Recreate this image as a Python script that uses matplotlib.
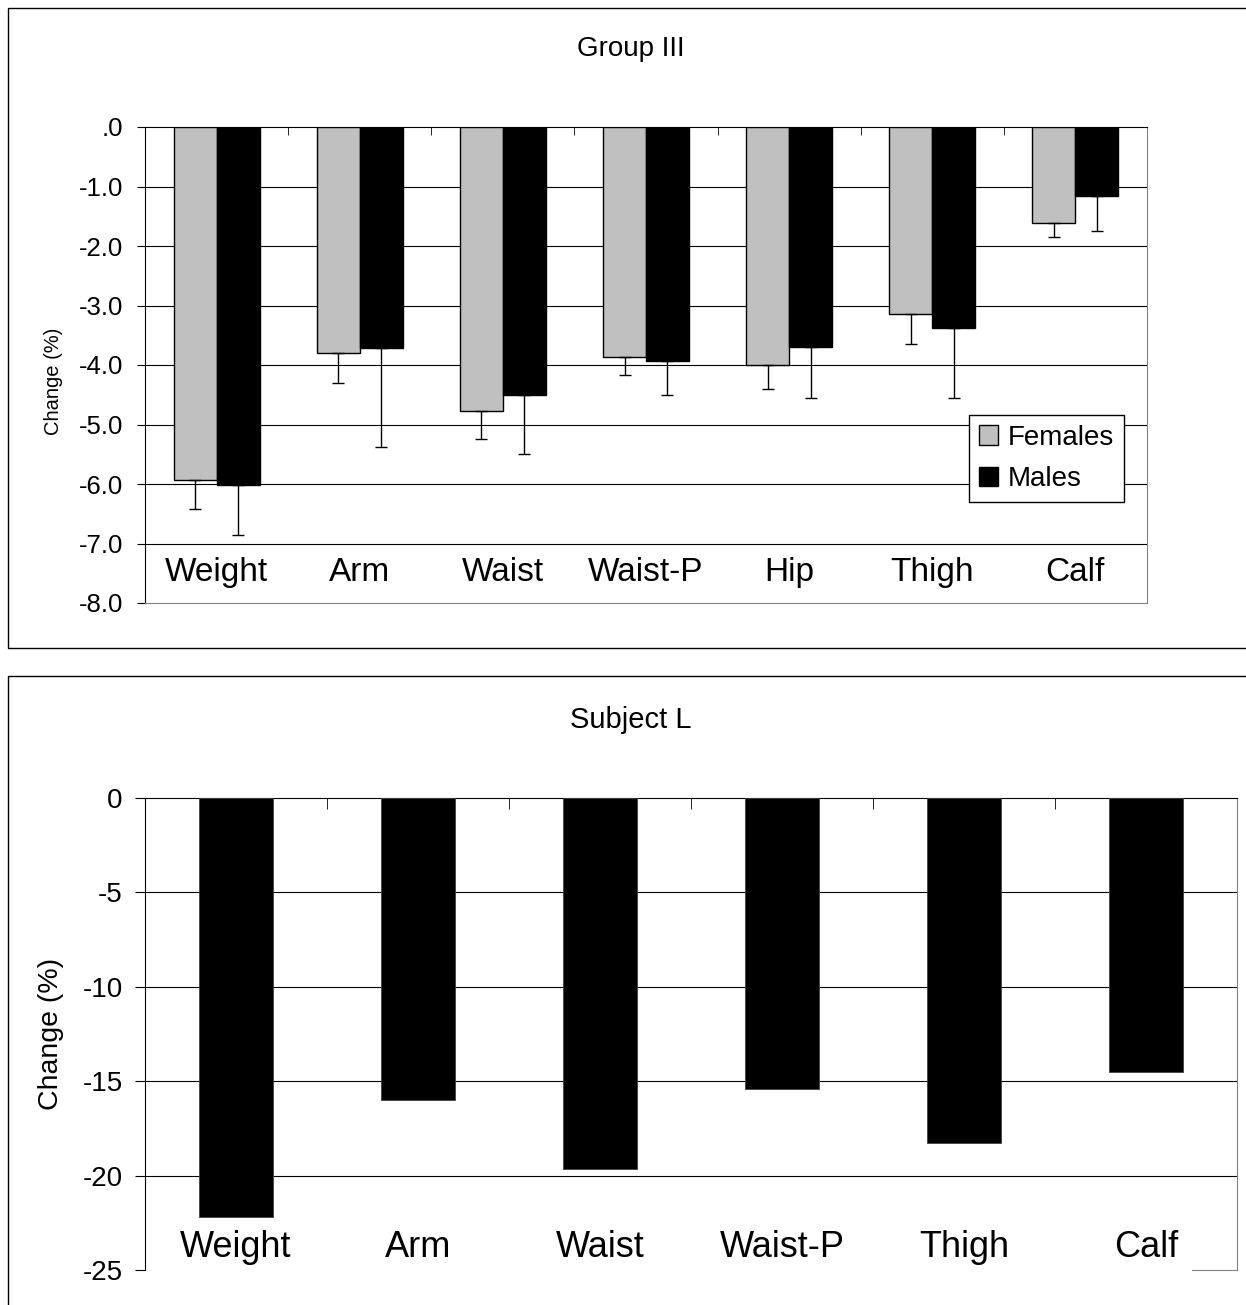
import numpy as np
import matplotlib
matplotlib.use("Agg")
import matplotlib.pyplot as plt
from matplotlib.patches import Rectangle

plt.rcParams['font.family'] = ['Liberation Sans', 'DejaVu Sans']

# Group III data (percent change, lower error only)
cats_top = ['Weight', 'Arm', 'Waist', 'Waist-P', 'Hip', 'Thigh', 'Calf']
females = [-5.94, -3.80, -4.77, -3.86, -4.00, -3.15, -1.61]
males = [-6.02, -3.72, -4.51, -3.94, -3.70, -3.38, -1.16]
females_err = [0.48, 0.51, 0.48, 0.31, 0.41, 0.49, 0.24]
males_err = [0.84, 1.66, 0.99, 0.56, 0.85, 1.17, 0.58]
yticks_top = [0, -1, -2, -3, -4, -5, -6, -7, -8]
yticklabels_top = ['.0', '-1.0', '-2.0', '-3.0', '-4.0', '-5.0', '-6.0', '-7.0', '-8.0']

# Subject L data
cats_bot = ['Weight', 'Arm', 'Waist', 'Waist-P', 'Thigh', 'Calf']
subject_l = [-22.2, -16.0, -19.65, -15.4, -18.25, -14.5]
yticks_bot = [0, -5, -10, -15, -20, -25]

W, H = 1246, 1305
fig = plt.figure(figsize=(W / 100, H / 100), dpi=100)

# outer frames
fig.add_artist(Rectangle((8 / W, 1 - 648 / H), 1.0, 640 / H, transform=fig.transFigure,
                         fill=False, edgecolor='black', lw=1.0))
fig.add_artist(Rectangle((8 / W, -0.1), 1.0, 0.1 + 1 - 676 / H, transform=fig.transFigure,
                         fill=False, edgecolor='black', lw=1.0))

gray_spine = '#808080'

# ---------- top panel ----------
ax1 = fig.add_axes([145 / W, 1 - 603 / H, (1147 - 145) / W, (603 - 127) / H])
x = np.arange(len(cats_top))
bw = 0.3
ax1.bar(x - bw / 2, females, bw, color='#C0C0C0', edgecolor='black', lw=1.0, label='Females', zorder=3)
ax1.bar(x + bw / 2, males, bw, color='black', edgecolor='black', lw=1.0, label='Males', zorder=3)
ax1.errorbar(x - bw / 2, females, yerr=[females_err, np.zeros(len(x))], fmt='none',
             ecolor='black', elinewidth=1.0, capsize=4, capthick=1.0, zorder=4)
ax1.errorbar(x + bw / 2, males, yerr=[males_err, np.zeros(len(x))], fmt='none',
             ecolor='black', elinewidth=1.0, capsize=4, capthick=1.0, zorder=4)

ax1.set_xlim(-0.5, len(cats_top) - 0.5)
ax1.set_ylim(-8, 0)
ax1.set_yticks(yticks_top)
ax1.set_yticklabels(yticklabels_top, fontsize=18.5)
for yv in yticks_top[1:-1]:
    ax1.axhline(yv, color='black', lw=0.8, zorder=1)
ax1.set_xticks(x)
ax1.set_xticklabels(cats_top, fontsize=24)
ax1.tick_params(axis='x', which='major', length=0, pad=-33)
ax1.set_xticks(np.arange(len(cats_top) + 1) - 0.5, minor=True)
ax1.tick_params(axis='x', which='minor', top=True, bottom=False, direction='in', length=6)
ax1.tick_params(axis='y', direction='out', length=6, pad=10)
ax1.set_ylabel('Change (%)', fontsize=14.5)
ax1.yaxis.set_label_coords(-0.082, 0.466)
for s in ['right', 'bottom']:
    ax1.spines[s].set_color(gray_spine)
leg = ax1.legend(loc='upper left', bbox_to_anchor=(0.8224, 0.395), fontsize=20, frameon=True,
                 fancybox=False, edgecolor='black', framealpha=1, handlelength=0.68, handleheight=0.68,
                 handletextpad=0.36, borderpad=0.35, labelspacing=0.55, borderaxespad=0)
leg.get_frame().set_linewidth(1.0)
fig.text(631 / W, 1 - 56 / H, 'Group III', fontsize=20, ha='center', va='baseline')

# ---------- bottom panel ----------
ax2 = fig.add_axes([145 / W, 1 - 1270 / H, (1237 - 145) / W, (1270 - 798) / H])
x2 = np.arange(len(cats_bot))
ax2.bar(x2, subject_l, 0.41, color='black', edgecolor='#404040', lw=0.6, zorder=3)
ax2.set_xlim(-0.5, len(cats_bot) - 0.5)
ax2.set_ylim(-25, 0)
ax2.set_yticks(yticks_bot)
ax2.set_yticklabels([str(v) for v in yticks_bot], fontsize=20)
for yv in yticks_bot[1:-1]:
    ax2.axhline(yv, color='black', lw=0.8, zorder=1)
ax2.set_xticks(x2)
ax2.set_xticklabels(cats_bot, fontsize=26)
ax2.tick_params(axis='x', which='major', length=0, pad=-29)
ax2.set_xticks(np.arange(len(cats_bot) + 1) - 0.5, minor=True)
ax2.tick_params(axis='x', which='minor', top=True, bottom=False, direction='in', length=8)
ax2.tick_params(axis='y', direction='out', length=7, pad=9)
ax2.set_ylabel('Change (%)', fontsize=20.5)
ax2.yaxis.set_label_coords(-0.074, 0.5)
ax2.spines['right'].set_color(gray_spine)
ax2.spines['bottom'].set_color(gray_spine)
ax2.spines['bottom'].set_bounds(5.25, 5.5)
fig.text(631 / W, 1 - 728 / H, 'Subject L', fontsize=21, ha='center', va='baseline')

fig.savefig('out.png', dpi=100)
